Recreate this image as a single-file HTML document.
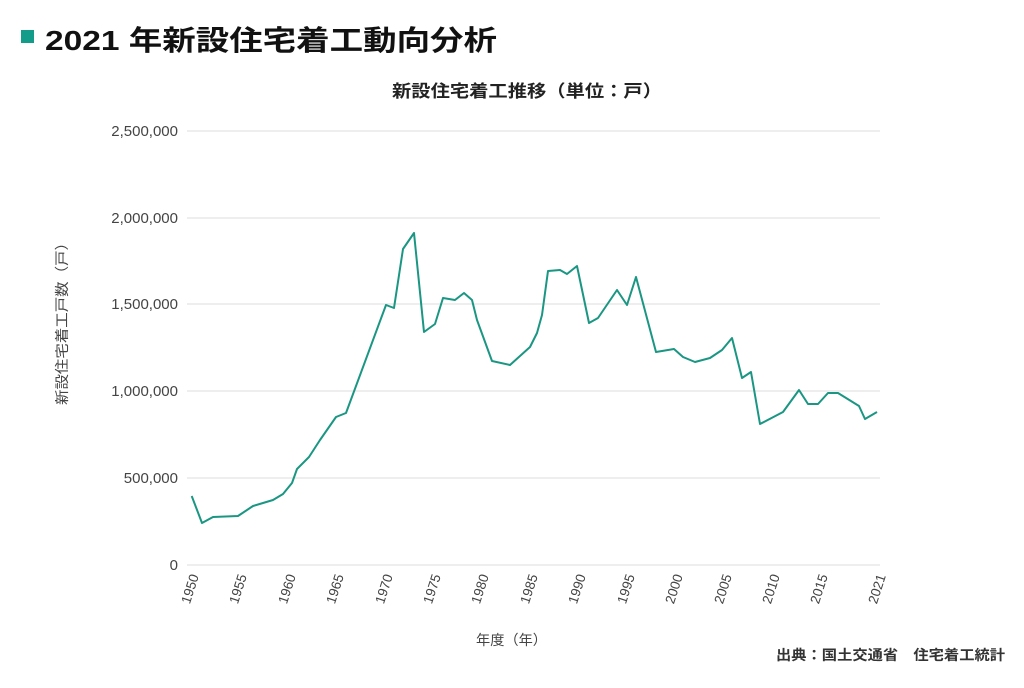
<!DOCTYPE html>
<html><head><meta charset="utf-8"><style>
html,body{margin:0;padding:0;background:#fff;}
svg{display:block;font-family:"Liberation Sans","Noto Sans CJK JP",sans-serif;}
</style></head><body>
<svg width="1024" height="688" viewBox="0 0 1024 688">
<rect x="21" y="30" width="13" height="13" fill="#139c8a"/>
<text x="45" y="50" font-size="28" font-weight="bold" fill="#111" textLength="452" lengthAdjust="spacingAndGlyphs">2021 年新設住宅着工動向分析</text>
<text x="392" y="97" font-size="17" font-weight="bold" fill="#222" textLength="270" lengthAdjust="spacingAndGlyphs">新設住宅着工推移（単位：戸）</text>
<g stroke="#dcdcdc" stroke-width="1">
<line x1="187" x2="880" y1="131" y2="131"/>
<line x1="187" x2="880" y1="218" y2="218"/>
<line x1="187" x2="880" y1="304" y2="304"/>
<line x1="187" x2="880" y1="391" y2="391"/>
<line x1="187" x2="880" y1="478" y2="478"/>
<line x1="187" x2="880" y1="565" y2="565"/>
</g>
<g font-size="15" fill="#444" text-anchor="end">
<text x="178" y="136">2,500,000</text>
<text x="178" y="223">2,000,000</text>
<text x="178" y="309">1,500,000</text>
<text x="178" y="396">1,000,000</text>
<text x="178" y="483">500,000</text>
<text x="178" y="570">0</text>
</g>
<g font-size="13.5" fill="#444" text-anchor="end">
<text transform="translate(199,576) rotate(-72)">1950</text>
<text transform="translate(247,576) rotate(-72)">1955</text>
<text transform="translate(296,576) rotate(-72)">1960</text>
<text transform="translate(344,576) rotate(-72)">1965</text>
<text transform="translate(393,576) rotate(-72)">1970</text>
<text transform="translate(441,576) rotate(-72)">1975</text>
<text transform="translate(489,576) rotate(-72)">1980</text>
<text transform="translate(538,576) rotate(-72)">1985</text>
<text transform="translate(586,576) rotate(-72)">1990</text>
<text transform="translate(635,576) rotate(-72)">1995</text>
<text transform="translate(683,576) rotate(-72)">2000</text>
<text transform="translate(732,576) rotate(-72)">2005</text>
<text transform="translate(780,576) rotate(-72)">2010</text>
<text transform="translate(828,576) rotate(-72)">2015</text>
<text transform="translate(886,576) rotate(-72)">2021</text>
</g>
<text transform="translate(67,320) rotate(-90)" font-size="14" fill="#444" text-anchor="middle" textLength="170" lengthAdjust="spacingAndGlyphs">新設住宅着工戸数（戸）</text>
<text x="476" y="645" font-size="14" fill="#444" textLength="71" lengthAdjust="spacingAndGlyphs">年度（年）</text>
<text x="776" y="660" font-size="14" font-weight="bold" fill="#333" textLength="229" lengthAdjust="spacingAndGlyphs">出典：国土交通省　住宅着工統計</text>
<polyline fill="none" stroke="#1a9683" stroke-width="2" stroke-linejoin="round" points="191.7,496 202,523 213,517 238,516 253,506 263,503 273,500 283,494 292,483 297,469 309,457 320,440 336,417 346,413 386,305 394,308 403,249 414,233 424,332 435,324 443,298 455,300 464,293 472,300 477,320 492,361 510,365 530,347 537,333 542,315 548,271 560,270 567,274 577,266 589,323 598,318 617,290 627,305 636,277 656,352 674,349 683,357 695,362 710,358 722,350 732,338 742,378 751,372 760,424 783,412 799,390 808,404 818,404 828,393 838,393 859,406 865,419 877,412"/>
</svg>
</body></html>
